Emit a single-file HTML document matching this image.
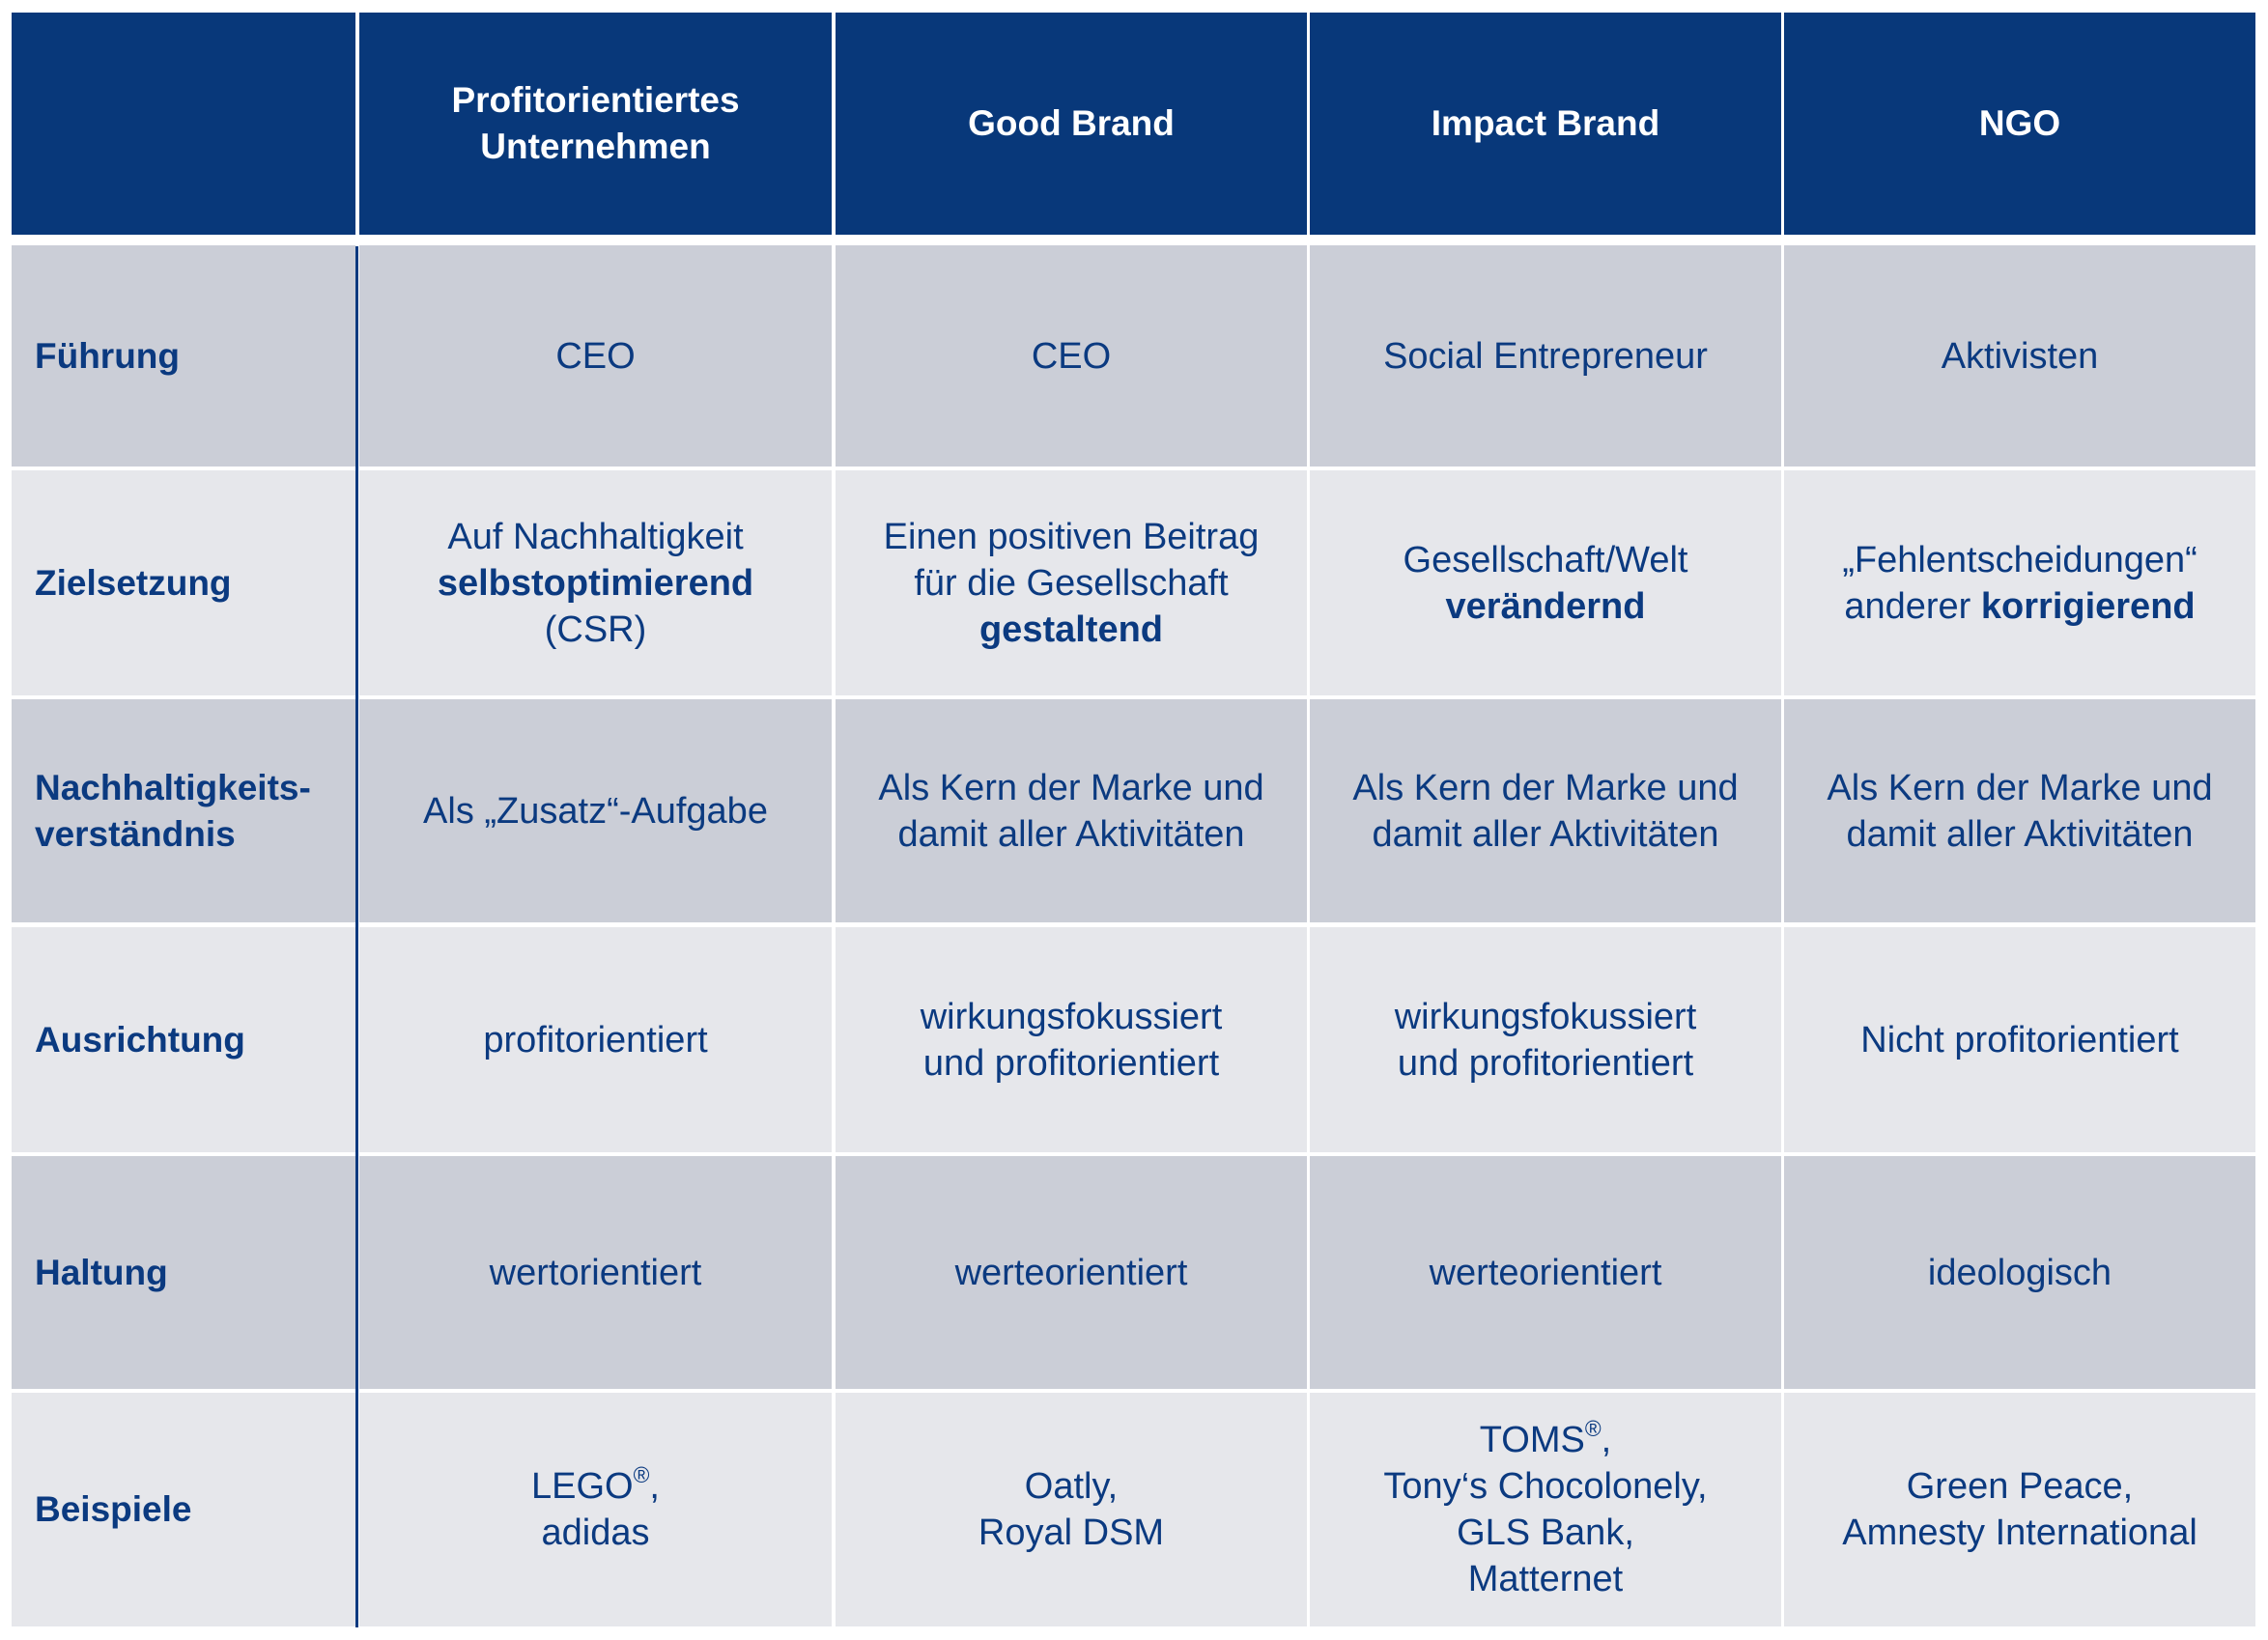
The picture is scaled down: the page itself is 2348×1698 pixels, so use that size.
<!DOCTYPE html>
<html><head><meta charset="utf-8"><style>
body{margin:0;width:2348px;height:1698px;background:#fff;position:relative;overflow:hidden;font-family:"Liberation Sans",Arial,sans-serif;}
.c{position:absolute;display:flex;align-items:center;justify-content:center;text-align:center;font-size:38px;line-height:48px;color:#0B3A80;box-sizing:border-box;}
.c>span{display:block;}
.h{background:#08387A;color:#fff;font-size:37px;font-weight:bold;}
.d{background:#CBCED7;}
.l{background:#E6E7EB;}
.f{justify-content:flex-start;text-align:left;padding-left:24px;font-weight:bold;font-size:37px;}
b{font-weight:bold;}
sup{font-size:60%;line-height:0;vertical-align:0.7em;}
.v{position:absolute;left:368px;top:255px;width:3px;height:1430px;background:#0B3A80;}
</style></head><body>
<div class="c h" style="left:12px;top:13px;width:356px;height:230px"></div>
<div class="c h" style="left:372px;top:13px;width:489px;height:230px"><span>Profitorientiertes<br>Unternehmen</span></div>
<div class="c h" style="left:865px;top:13px;width:488px;height:230px"><span>Good Brand</span></div>
<div class="c h" style="left:1356px;top:13px;width:488px;height:230px"><span>Impact Brand</span></div>
<div class="c h" style="left:1847px;top:13px;width:488px;height:230px"><span>NGO</span></div>

<div class="c d f" style="left:12px;top:254px;width:356px;height:229px"><span>Führung</span></div>
<div class="c d" style="left:372px;top:254px;width:489px;height:229px"><span>CEO</span></div>
<div class="c d" style="left:865px;top:254px;width:488px;height:229px"><span>CEO</span></div>
<div class="c d" style="left:1356px;top:254px;width:488px;height:229px"><span>Social Entrepreneur</span></div>
<div class="c d" style="left:1847px;top:254px;width:488px;height:229px"><span>Aktivisten</span></div>

<div class="c l f" style="left:12px;top:487px;width:356px;height:233px"><span>Zielsetzung</span></div>
<div class="c l" style="left:372px;top:487px;width:489px;height:233px"><span>Auf Nachhaltigkeit<br><b>selbstoptimierend</b><br>(CSR)</span></div>
<div class="c l" style="left:865px;top:487px;width:488px;height:233px"><span>Einen positiven Beitrag<br>für die Gesellschaft<br><b>gestaltend</b></span></div>
<div class="c l" style="left:1356px;top:487px;width:488px;height:233px"><span>Gesellschaft/Welt<br><b>verändernd</b></span></div>
<div class="c l" style="left:1847px;top:487px;width:488px;height:233px"><span>„Fehlentscheidungen“<br>anderer <b>korrigierend</b></span></div>

<div class="c d f" style="left:12px;top:724px;width:356px;height:231px"><span>Nachhaltigkeits-<br>verständnis</span></div>
<div class="c d" style="left:372px;top:724px;width:489px;height:231px"><span>Als „Zusatz“-Aufgabe</span></div>
<div class="c d" style="left:865px;top:724px;width:488px;height:231px"><span>Als Kern der Marke und<br>damit aller Aktivitäten</span></div>
<div class="c d" style="left:1356px;top:724px;width:488px;height:231px"><span>Als Kern der Marke und<br>damit aller Aktivitäten</span></div>
<div class="c d" style="left:1847px;top:724px;width:488px;height:231px"><span>Als Kern der Marke und<br>damit aller Aktivitäten</span></div>

<div class="c l f" style="left:12px;top:960px;width:356px;height:233px"><span>Ausrichtung</span></div>
<div class="c l" style="left:372px;top:960px;width:489px;height:233px"><span>profitorientiert</span></div>
<div class="c l" style="left:865px;top:960px;width:488px;height:233px"><span>wirkungsfokussiert<br>und profitorientiert</span></div>
<div class="c l" style="left:1356px;top:960px;width:488px;height:233px"><span>wirkungsfokussiert<br>und profitorientiert</span></div>
<div class="c l" style="left:1847px;top:960px;width:488px;height:233px"><span>Nicht profitorientiert</span></div>

<div class="c d f" style="left:12px;top:1197px;width:356px;height:241px"><span>Haltung</span></div>
<div class="c d" style="left:372px;top:1197px;width:489px;height:241px"><span>wertorientiert</span></div>
<div class="c d" style="left:865px;top:1197px;width:488px;height:241px"><span>werteorientiert</span></div>
<div class="c d" style="left:1356px;top:1197px;width:488px;height:241px"><span>werteorientiert</span></div>
<div class="c d" style="left:1847px;top:1197px;width:488px;height:241px"><span>ideologisch</span></div>

<div class="c l f" style="left:12px;top:1442px;width:356px;height:242px"><span>Beispiele</span></div>
<div class="c l" style="left:372px;top:1442px;width:489px;height:242px"><span>LEGO<sup>®</sup>,<br>adidas</span></div>
<div class="c l" style="left:865px;top:1442px;width:488px;height:242px"><span>Oatly,<br>Royal DSM</span></div>
<div class="c l" style="left:1356px;top:1442px;width:488px;height:242px"><span>TOMS<sup>®</sup>,<br>Tony‘s Chocolonely,<br>GLS Bank,<br>Matternet</span></div>
<div class="c l" style="left:1847px;top:1442px;width:488px;height:242px"><span>Green Peace,<br>Amnesty International</span></div>
<div class="v"></div>
</body></html>
